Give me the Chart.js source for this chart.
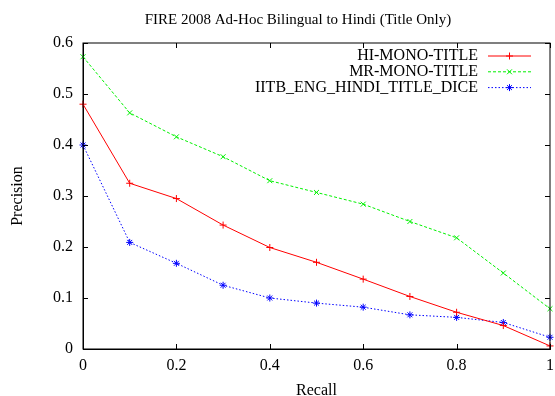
<!DOCTYPE html>
<html>
<head>
<meta charset="utf-8">
<script src="https://cdn.jsdelivr.net/npm/chart.js@4"></script>
<style>
  html, body { margin: 0; padding: 0; background: #fff; }
  #wrap { width: 555px; height: 396px; position: relative; }
</style>
</head>
<body>
<div id="wrap"><canvas id="prChart"></canvas></div>
<script>
const recall = [0, 0.1, 0.2, 0.3, 0.4, 0.5, 0.6, 0.7, 0.8, 0.9, 1.0];
const hiMonoTitle = [0.480, 0.325, 0.295, 0.243, 0.199, 0.170, 0.137, 0.103, 0.072, 0.046, 0.006];
const mrMonoTitle = [0.573, 0.463, 0.416, 0.377, 0.330, 0.307, 0.284, 0.250, 0.218, 0.149, 0.079];
const iitbEngHindi = [0.400, 0.209, 0.168, 0.125, 0.100, 0.090, 0.082, 0.067, 0.062, 0.052, 0.023];
const seriesNames = ["HI-MONO-TITLE", "MR-MONO-TITLE", "IITB_ENG_HINDI_TITLE_DICE"];
const chartTitle = "FIRE 2008 Ad-Hoc Bilingual to Hindi (Title Only)";

const serif = "'Liberation Serif', 'DejaVu Serif', serif";

function toPoints(values) {
    return recall.map((r, i) => ({ x: r, y: values[i] }));
}

// gnuplot-like frame: inward ticks on all sides, title and legend
const gnuplotFrame = {
    id: "gnuplotFrame",
    afterDraw(chart) {
        const ctx = chart.ctx;
        const area = chart.chartArea;
        const xs = chart.scales.x;
        const ys = chart.scales.y;
        const len = 5;
        ctx.save();
        ctx.strokeStyle = "#000";
        ctx.lineWidth = 1;
        ctx.setLineDash([]);
        ctx.strokeRect(area.left, area.top, area.right - area.left, area.bottom - area.top);
        ctx.beginPath();
        xs.ticks.forEach(t => {
            const px = Math.round(xs.getPixelForValue(t.value)) + 0.5;
            ctx.moveTo(px, area.bottom); ctx.lineTo(px, area.bottom - len);
            ctx.moveTo(px, area.top); ctx.lineTo(px, area.top + len);
        });
        ys.ticks.forEach(t => {
            const py = Math.round(ys.getPixelForValue(t.value)) + 0.5;
            ctx.moveTo(area.left, py); ctx.lineTo(area.left + len, py);
            ctx.moveTo(area.right, py); ctx.lineTo(area.right - len, py);
        });
        ctx.stroke();

        // title
        ctx.fillStyle = "#000";
        ctx.font = "15px " + serif;
        ctx.textAlign = "center";
        ctx.textBaseline = "middle";
        ctx.fillText(chartTitle, 298, 20);

        // legend
        ctx.font = "16px " + serif;
        ctx.textAlign = "right";
        chart.data.datasets.forEach((ds, i) => {
            const y = 56 + i * 15.8;
            ctx.fillStyle = "#000";
            ctx.fillText(ds.label, 478, y);
            ctx.strokeStyle = ds.borderColor;
            ctx.lineWidth = 1;
            ctx.setLineDash(ds.borderDash || []);
            ctx.beginPath();
            ctx.moveTo(488, y);
            ctx.lineTo(531, y);
            ctx.stroke();
            ctx.setLineDash([]);
            Chart.helpers.drawPoint(ctx, {
                pointStyle: ds.pointStyle,
                radius: ds.pointRadius,
                rotation: 0,
                borderWidth: 1
            }, 509.5, y);
        });
        ctx.restore();
    }
};

const ctx = document.getElementById("prChart").getContext("2d");
new Chart(ctx, {
    type: "line",
    data: {
        datasets: [
            {
                label: seriesNames[0],
                data: toPoints(hiMonoTitle),
                borderColor: "#ff0000",
                backgroundColor: "#ff0000",
                borderWidth: 1,
                pointStyle: "cross",
                pointRadius: 3.5,
                pointBorderWidth: 1,
                clip: false
            },
            {
                label: seriesNames[1],
                data: toPoints(mrMonoTitle),
                borderColor: "#00f000",
                backgroundColor: "#00f000",
                borderWidth: 1,
                borderDash: [3, 2],
                pointStyle: "crossRot",
                pointRadius: 3.5,
                pointBorderWidth: 1,
                clip: false
            },
            {
                label: seriesNames[2],
                data: toPoints(iitbEngHindi),
                borderColor: "#0000ff",
                backgroundColor: "#0000ff",
                borderWidth: 1,
                borderDash: [1.5, 2],
                pointStyle: "star",
                pointRadius: 3.5,
                pointBorderWidth: 1,
                clip: false
            }
        ]
    },
    options: {
        responsive: true,
        maintainAspectRatio: false,
        animation: false,
        layout: { padding: { top: 43, right: 4, bottom: 0, left: 0 } },
        plugins: {
            legend: { display: false },
            title: { display: false },
            tooltip: { enabled: false }
        },
        scales: {
            x: {
                type: "linear",
                min: 0,
                max: 1,
                afterFit: s => { s.height = 47; s.paddingRight = 0; s.paddingLeft = 0; },
                ticks: {
                    stepSize: 0.2,
                    padding: 7,
                    color: "#000",
                    font: { family: serif, size: 16 },
                    callback: v => String(Math.round(v * 10) / 10)
                },
                grid: { drawOnChartArea: false, drawTicks: false },
                border: { color: "#000" },
                title: {
                    display: true,
                    text: "Recall",
                    color: "#000",
                    font: { family: serif, size: 16, lineHeight: 1 },
                    padding: { top: 0, bottom: -3 }
                }
            },
            y: {
                min: 0,
                max: 0.6,
                afterFit: s => { s.width = 83; s.paddingTop = 0; s.paddingBottom = 0; },
                ticks: {
                    stepSize: 0.1,
                    padding: 10,
                    color: "#000",
                    font: { family: serif, size: 16 },
                    callback: v => String(Math.round(v * 10) / 10)
                },
                grid: { drawOnChartArea: false, drawTicks: false },
                border: { color: "#000" },
                title: {
                    display: true,
                    text: "Precision",
                    color: "#000",
                    font: { family: serif, size: 16 },
                    padding: { top: 8, bottom: 0 }
                }
            }
        }
    },
    plugins: [gnuplotFrame]
});
</script>
</body>
</html>
